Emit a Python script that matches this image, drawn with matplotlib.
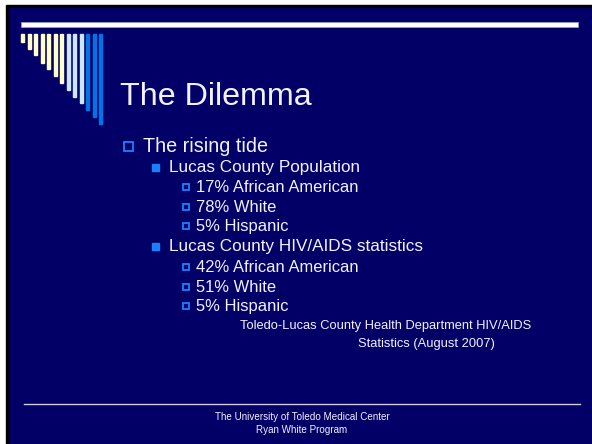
# Slide recreation: "The Dilemma" (Ryan White Program)
import matplotlib.pyplot as plt
from matplotlib.patches import Rectangle

plt.rcParams['font.family'] = ['Liberation Sans', 'DejaVu Sans']

# Slide content
title = 'The Dilemma'
bullet_texts = ['The rising tide',
                'Lucas County Population',
                '17% African American',
                '78% White',
                '5% Hispanic',
                'Lucas County HIV/AIDS statistics',
                '42% African American',
                '51% White',
                '5% Hispanic']
bullet_levels = [1, 2, 3, 3, 3, 2, 3, 3, 3]
citation = ['Toledo-Lucas County Health Department HIV/AIDS',
            'Statistics (August 2007)']
footer = ['The University of Toledo Medical Center', 'Ryan White Program']

# Decorative bar lengths (px) in the top-left corner
bar_bottoms = [42, 49, 55, 63, 69, 76, 83, 90, 97, 103, 110, 117, 124]
bar_colors = ['#ffffcc'] * 7 + ['#cce6ff'] * 3 + ['#0073e6'] * 3

navy = '#020066'
blue = '#1a80ff'
text_col = '#f2f2ff'

fig = plt.figure(figsize=(5.92, 4.44), dpi=100)
fig.patch.set_facecolor('white')
ax = fig.add_axes([0, 0, 1, 1])
ax.set_xlim(0, 592)
ax.set_ylim(444, 0)
ax.axis('off')

# Background and border (black only on the left and top)
ax.add_patch(Rectangle((6, 5), 600, 450, color='black'))
ax.add_patch(Rectangle((10, 8), 600, 450, color=navy))

# Top white rule
ax.add_patch(Rectangle((21, 22), 557, 5, facecolor='white',
                       edgecolor='#9999cc', lw=0.6))

# Corner bars
for i, (b, c) in enumerate(zip(bar_bottoms, bar_colors)):
    x = 21 + i * 6.5
    ax.add_patch(Rectangle((x, 34), 3, b - 34, color=c))

# Title
ax.text(120, 97, title, color=text_col, fontsize=23.2, va='center', ha='left')

# Bullets
indent = {1: 143, 2: 169, 3: 196}
fsize = {1: 14.2, 2: 12.3, 3: 11.9}
y = [146, 167, 187, 207, 226, 246, 267, 287, 306]
for t, lv, yy in zip(bullet_texts, bullet_levels, y):
    ax.text(indent[lv], yy, t, color=text_col, fontsize=fsize[lv],
            va='center', ha='left')
    if lv == 1:
        ax.add_patch(Rectangle((124, yy - 4.5), 9, 9, fill=False,
                               edgecolor=blue, lw=1.3))
    elif lv == 2:
        ax.add_patch(Rectangle((152, yy - 3), 6.5, 6.5, color=blue))
    else:
        ax.add_patch(Rectangle((182.5, yy - 3), 6, 6, fill=False,
                               edgecolor=blue, lw=1.3))

# Citation
ax.text(240, 326, citation[0], color=text_col, fontsize=9.3, va='center')
ax.text(358, 344, citation[1], color=text_col, fontsize=9.3, va='center')

# Footer rule and text
ax.plot([24, 580], [404, 404], color='#ccccdd', lw=1)
ax.text(302, 417, footer[0], color=text_col, fontsize=7.1,
        ha='center', va='center')
ax.text(302, 430, footer[1], color=text_col, fontsize=7.1,
        ha='center', va='center')

fig.savefig('out.png', dpi=100, facecolor=fig.get_facecolor())
